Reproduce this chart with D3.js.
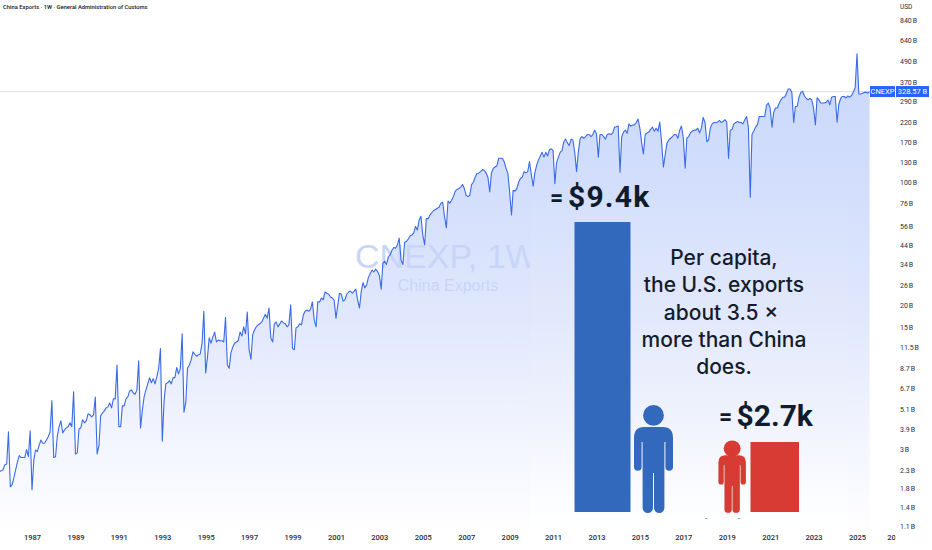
<!DOCTYPE html>
<html>
<head>
<meta charset="utf-8">
<style>
  html, body { margin: 0; padding: 0; background: #fff; }
  svg { display: block; }
</style>
<script src="https://cdn.jsdelivr.net/npm/d3@7"></script>
</head>
<body>
<div id="wrapper"></div>
<script>
// monthly values in billions USD, one row per year, first row starts Jul 1985
const firstMonth = "1985-07"
const exportValues = [
  2.24, 2.27, 2.3, 2.46, 2.48, 3.78,
  1.84, 1.89, 2.06, 2.3, 2.55, 2.77, 2.7, 2.7, 2.7, 3.0, 2.73, 3.83,
  1.77, 2.62, 2.98, 2.92, 3.17, 3.4, 3.26, 3.26, 3.4, 3.55, 3.78, 5.7,
  2.7, 2.73, 3.55, 4.05, 4.37, 3.73, 3.88, 3.98, 4.05, 4.26, 4.05, 6.4,
  2.83, 2.87, 3.93, 3.98, 4.43, 4.26, 4.37, 4.79, 4.73, 4.6, 4.73, 5.98,
  2.83, 3.17, 4.67, 4.85, 4.98, 5.18, 5.25, 5.53, 5.18, 5.83, 5.83, 9.1,
  4.05, 4.05, 5.32, 5.32, 5.83, 5.98, 6.47, 6.56, 6.3, 6.2, 6.56, 9.6,
  3.98, 5.05, 5.98, 6.56, 7.1, 7.7, 7.2, 7.6, 7.1, 7.8, 8.7, 11.3,
  3.35, 5.75, 7.1, 7.2, 7.4, 7.1, 7.7, 7.7, 8.8, 8.1, 8.7, 13.7,
  4.9, 5.6, 8.7, 9.1, 9.7, 10.8, 10.5, 10.2, 10.4, 10.5, 12.1, 18.4,
  8.2, 10.1, 13, 12.1, 13.1, 14, 12.3, 12.6, 12.5, 12.5, 12.3, 17,
  9.1, 8.7, 10.7, 11.5, 12.1, 12.3, 12.5, 14, 13.3, 15, 13.7, 18.2,
  11.1, 9.8, 13.5, 14.4, 15, 15.4, 15.6, 16, 16.8, 17.7, 16.8, 19.2,
  13, 12.3, 15.6, 16, 15, 15.6, 16.2, 15.8, 15.6, 15, 15.4, 20,
  11.3, 11.1, 14.8, 15, 15.6, 15.4, 17.5, 18.4, 18.7, 18.4, 18.9, 20.8,
  16.4, 15, 20.8, 20.8, 21.9, 21.4, 23.7, 23.3, 23, 22.2, 21.9, 21.3,
  16.8, 20, 23.3, 23, 21, 21.4, 23, 23.7, 24, 23.3, 23.9, 24.6,
  21.3, 19.2, 23.7, 26.8, 25, 26, 28.7, 30.2, 31.6, 30.8, 32, 31,
  29.5, 24.6, 34.5, 35.5, 34, 37.5, 38.5, 41, 42.5, 42, 44, 48,
  36, 34, 45.5, 46, 47.5, 49.5, 50, 51.5, 56, 53.4, 61, 64,
  50, 44, 62, 62, 65, 67, 69, 70, 71, 72, 76, 77,
  64, 55, 78, 76, 79, 83, 89, 91, 92, 94, 97, 92,
  84, 83, 84, 97, 100, 107, 112, 113, 115, 118, 117, 113,
  107, 88, 113, 120, 122, 124, 137, 137, 137, 131, 120, 113,
  88, 65, 90, 89, 92, 100, 105, 107, 115, 113, 115, 131,
  110, 95, 113, 125, 134, 141, 148, 139, 148, 141, 153, 155,
  152, 98, 129, 139, 148, 152, 170, 176, 167, 162, 176, 174,
  148, 115, 148, 178, 182, 178, 182, 187, 187, 182, 187, 198,
  189, 139, 187, 187, 182, 176, 187, 189, 187, 191, 206, 207,
  209, 114, 181, 193, 198, 190, 215, 209, 212, 212, 219, 229,
  203, 167, 145, 187, 191, 193, 200, 206, 195, 203, 195, 220,
  170, 122, 143, 167, 174, 178, 182, 187, 187, 178, 198, 209,
  178, 120, 178, 182, 191, 196, 198, 198, 203, 191, 204, 234,
  219, 170, 174, 204, 215, 219, 219, 220, 225, 219, 222, 227,
  221, 137, 198, 200, 215, 219, 222, 219, 219, 215, 227, 237,
  205, 82, 187, 196, 206, 213, 237, 237, 237, 237, 275, 282,
  265, 206, 250, 265, 265, 282, 294, 305, 305, 320, 340, 340,
  325, 219, 270, 270, 305, 325, 330, 310, 300, 295, 300, 295,
  265, 212, 303, 295, 283, 283, 283, 285, 294, 276, 305, 308,
  308, 220, 278, 300, 308, 308, 302, 310, 305, 312, 327, 345,
  540, 318, 318, 320, 325, 325, 322, 328.57
]

const priceTicks = [840, 640, 490, 370, 290, 220, 170, 130, 100, 76, 56, 44, 34, 26, 20, 15, 11.5, 8.7, 6.7, 5.1, 3.9, 3, 2.3, 1.8, 1.4, 1.1]
const yearTicks = d3.range(1987, 2028, 2)
const lastValue = 328.57

const capitaLabels = ["$9.4k", "$2.7k"]
const capitaValues = [9.4, 2.7]
const noteLines = ["Per capita,", "the U.S. exports", "about 3.5 ×", "more than China", "does."]

const title = "China Exports · 1W · General Administration of Customs"

function drawChart() {

  // 1. Access data
  const parseMonth = d3.utcParse("%Y-%m")
  const start = parseMonth(firstMonth)
  const data = exportValues.map((value, i) => ({date: d3.utcMonth.offset(start, i), value}))

  // 2. Create chart dimensions
  const width = 932, height = 550
  const plotRight = 870

  // 3. Draw canvas
  const wrapper = d3.select("#wrapper").append("svg")
      .attr("width", width)
      .attr("height", height)
      .style("font-family", "Roboto, sans-serif")

  const defs = wrapper.append("defs")

  const areaStops = [[50, "#c9d7fb"], [200, "#d4dffc"], [320, "#e1e8fd"], [420, "#f0f3fe"], [470, "#f6f8ff"], [510, "#fcfcff"], [535, "#ffffff"]]
  const areaGradient = defs.append("linearGradient")
      .attr("id", "areaFill")
      .attr("gradientUnits", "userSpaceOnUse")
      .attr("x1", 0).attr("x2", 0)
      .attr("y1", 50).attr("y2", 535)
  areaGradient.selectAll("stop")
      .data(areaStops)
      .join("stop")
      .attr("offset", d => (d[0] - 50) / 485)
      .attr("stop-color", d => d[1])

  const panelStops = [[200, "#d5e0fc"], [320, "#e3e9fc"], [420, "#f0f3fd"], [470, "#f7f9fe"], [520, "#feffff"], [535, "#ffffff"]]
  const panelGradient = defs.append("linearGradient")
      .attr("id", "panelFill")
      .attr("gradientUnits", "userSpaceOnUse")
      .attr("x1", 0).attr("x2", 0)
      .attr("y1", 200).attr("y2", 535)
  panelGradient.selectAll("stop")
      .data(panelStops)
      .join("stop")
      .attr("offset", d => (d[0] - 200) / 335)
      .attr("stop-color", d => d[1])

  defs.append("clipPath").attr("id", "timeClip")
    .append("rect").attr("x", 0).attr("y", -8).attr("width", 895.5).attr("height", 20)

  // 4. Create scales
  const xScale = d3.scaleUtc()
      .domain([new Date(Date.UTC(1987, 0, 1)), new Date(Date.UTC(2025, 0, 1))])
      .range([32, 857])

  const yScale = d3.scaleLog()
      .domain([840, 1.1])
      .range([20, 526])

  const barScale = d3.scaleLinear()
      .domain([2.7, 9.4])
      .range([442, 222])

  const area = d3.area()
      .x(d => xScale(d.date))
      .y0(535)
      .y1(d => yScale(d.value))
  const line = d3.line()
      .x(d => xScale(d.date))
      .y(d => yScale(d.value))

  // 5. Draw data
  wrapper.append("path")
      .datum(data)
      .attr("d", area)
      .attr("fill", "url(#areaFill)")

  wrapper.append("line")
      .attr("x1", 0)
      .attr("x2", plotRight)
      .attr("y1", yScale(lastValue))
      .attr("y2", yScale(lastValue))
      .attr("stroke", "#d5d8df")
      .attr("stroke-width", 0.8)

  // watermark
  wrapper.append("text")
      .attr("x", 355).attr("y", 268)
      .attr("font-family", "Liberation Sans, Arial, sans-serif")
      .attr("font-size", 34)
      .attr("fill", "#c8d5f8")
      .text("CNEXP, 1W")
  wrapper.append("text")
      .attr("x", 448).attr("y", 291)
      .attr("text-anchor", "middle")
      .attr("font-family", "Liberation Sans, Arial, sans-serif")
      .attr("font-size", 16)
      .attr("fill", "#c8d5f8")
      .text("China Exports")

  // infographic pasted over the lower right of the chart
  wrapper.append("rect")
      .attr("x", 530).attr("y", 200)
      .attr("width", 318).attr("height", 335)
      .attr("fill", "url(#panelFill)")

  wrapper.append("path")
      .datum(data)
      .attr("d", line)
      .attr("fill", "none")
      .attr("stroke", "#3a6ae5")
      .attr("stroke-width", 1.1)
      .attr("stroke-linejoin", "round")

  const barColors = ["#3269bd", "#d83a34"]
  const barLeft = [574.5, 750.5]
  const barWidth = [56, 48.5]

  wrapper.selectAll(".bar")
      .data(capitaValues)
      .join("rect")
      .attr("class", "bar")
      .attr("x", (d, i) => barLeft[i])
      .attr("width", (d, i) => barWidth[i])
      .attr("y", d => barScale(d))
      .attr("height", d => 512 - barScale(d))
      .attr("fill", (d, i) => barColors[i])

  // person icons, drawn once at the blue size and scaled
  const personBody = "M10 22H29Q39 22 39 33V62A3.8 3.8 0 0 1 31.4 62V37H30.4V102.8A5.2 5.2 0 0 1 20 102.8V68H19V102.8A5.2 5.2 0 0 1 8.6 102.8V37H7.6V62A3.8 3.8 0 0 1 0 62V33Q0 22 10 22Z"
  const people = [
    {x: 634, y: 405, sx: 1, sy: 1, head: 10.4, color: barColors[0]},
    {x: 718.4, y: 440.5, sx: 0.705, sy: 0.67, head: 12, color: barColors[1]},
  ]
  const person = wrapper.selectAll(".person")
      .data(people)
      .join("g")
      .attr("class", "person")
      .attr("transform", d => `translate(${d.x},${d.y}) scale(${d.sx},${d.sy})`)
      .attr("fill", d => d.color)
  person.append("ellipse")
      .attr("cx", 19.5)
      .attr("cy", d => d.head)
      .attr("rx", d => d.head)
      .attr("ry", d => d.head)
  person.append("path").attr("d", personBody)

  // stray marks under the red figure
  wrapper.selectAll(".speck")
      .data([705, 738])
      .join("rect")
      .attr("class", "speck")
      .attr("x", d => d).attr("y", 518)
      .attr("width", 2.5).attr("height", 0.8)
      .attr("fill", "#8a8f99")

  // 6. Draw peripherals
  const labelPos = [{eq: 550, x: 568, y: 207, spacing: 1.2}, {eq: 719, x: 736.5, y: 426, spacing: 0}]
  const bigLabel = wrapper.selectAll(".capita")
      .data(capitaLabels)
      .join("g")
      .attr("class", "capita")
      .attr("font-family", "Roboto, sans-serif")
      .attr("font-weight", 700)
      .attr("fill", "#101c2e")
  bigLabel.append("text")
      .attr("x", (d, i) => labelPos[i].eq)
      .attr("y", (d, i) => labelPos[i].y - 1)
      .attr("font-size", 23)
      .text("=")
  bigLabel.append("text")
      .attr("x", (d, i) => labelPos[i].x)
      .attr("y", (d, i) => labelPos[i].y)
      .attr("font-size", 30)
      .attr("letter-spacing", (d, i) => labelPos[i].spacing)
      .text(d => d)

  wrapper.selectAll(".note")
      .data(noteLines)
      .join("text")
      .attr("class", "note")
      .attr("x", (d, i) => i === 2 ? 721 : 724)
      .attr("y", (d, i) => 265 + i * 27.3)
      .attr("text-anchor", "middle")
      .attr("font-family", "Inter, sans-serif")
      .attr("font-weight", 500)
      .attr("font-size", 21)
      .attr("fill", "#141c2b")
      .text(d => d)

  // price axis
  const priceAxis = d3.axisRight(yScale)
      .tickValues(priceTicks)
      .tickSize(0)
      .tickPadding(0)
      .tickFormat(d => d + " B")
  const priceGroup = wrapper.append("g")
      .attr("transform", "translate(900,0)")
      .call(priceAxis)
  priceGroup.select(".domain").remove()
  priceGroup.selectAll("text")
      .attr("font-size", 7)
      .attr("word-spacing", -0.8)
      .attr("font-family", "Roboto, sans-serif")
      .attr("fill", "#2a2e39")

  wrapper.append("text")
      .attr("x", 900).attr("y", 9)
      .attr("font-size", 6.5)
      .attr("fill", "#2a2e39")
      .text("USD")

  // time axis, last label is cut off by the price axis
  const timeAxis = d3.axisBottom(xScale)
      .tickValues(yearTicks.map(y => new Date(Date.UTC(y, 0, 1))))
      .tickSize(0)
      .tickPadding(0)
      .tickFormat(d3.utcFormat("%Y"))
  const timeGroup = wrapper.append("g")
      .attr("transform", "translate(0,535)")
      .attr("clip-path", "url(#timeClip)")
      .call(timeAxis)
  timeGroup.select(".domain").remove()
  timeGroup.selectAll("text")
      .attr("font-size", 7.5)
      .attr("font-weight", 500)
      .attr("dx", d => d.getUTCFullYear() === 2027 ? -5 : 0)
      .attr("font-family", "Roboto, sans-serif")
      .attr("fill", "#2a2e39")

  // last value tags
  const lastY = yScale(lastValue)
  wrapper.append("rect")
      .attr("x", plotRight).attr("y", lastY - 5.5)
      .attr("width", 25).attr("height", 11)
      .attr("fill", "#2962ff")
  wrapper.append("rect")
      .attr("x", 896).attr("y", lastY - 5.5)
      .attr("width", 33).attr("height", 11)
      .attr("fill", "#2962ff")
  wrapper.append("text")
      .attr("x", 882.5).attr("y", lastY + 2.7)
      .attr("text-anchor", "middle")
      .attr("font-size", 7.5)
      .attr("fill", "#fff")
      .text("CNEXP")
  wrapper.append("text")
      .attr("x", 912.5).attr("y", lastY + 2.7)
      .attr("text-anchor", "middle")
      .attr("font-size", 7.5)
      .attr("fill", "#fff")
      .text(lastValue + " B")

  wrapper.append("text")
      .attr("x", 3).attr("y", 8.5)
      .attr("font-family", "Roboto, sans-serif")
      .attr("font-weight", 500)
      .attr("font-size", 5.8)
      .attr("fill", "#131722")
      .text(title)
}

drawChart()
</script>
</body>
</html>
